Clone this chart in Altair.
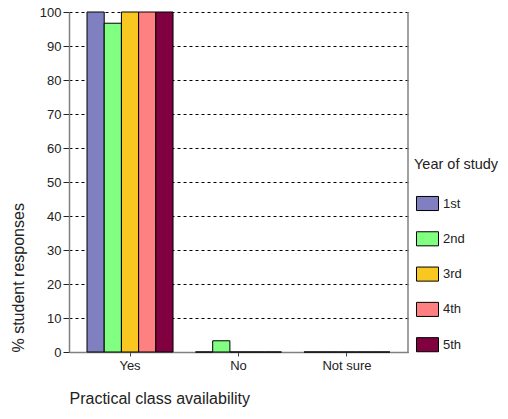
import altair as alt
import pandas as pd

categories = ["Yes", "No", "Not sure"]
years = ["1st", "2nd", "3rd", "4th", "5th"]
yes_vals = [100, 96.7, 100, 100, 100]
no_vals = [0, 3.3, 0, 0, 0]
notsure_vals = [0, 0, 0, 0, 0]
colors = ["#8080C0", "#80FF80", "#F8C820", "#FF8080", "#800040"]
y_ticks = [0, 10, 20, 30, 40, 50, 60, 70, 80, 90, 100]

rows = []
for cat, vals in zip(categories, [yes_vals, no_vals, notsure_vals]):
    for yr, v in zip(years, vals):
        rows.append({"cat": cat, "year": yr, "value": v})
df = pd.DataFrame(rows)

FONT = "Liberation Sans"
W, H = 339, 340

bars = alt.Chart(df).mark_bar(stroke="black", strokeWidth=1).encode(
    x=alt.X(
        "cat:N",
        sort=categories,
        scale=alt.Scale(paddingInner=0.207, paddingOuter=0.166),
        axis=alt.Axis(
            title="Practical class availability",
            labelAngle=0,
            labelFontSize=13,
            labelColor="#222222",
            labelFont=FONT,
            labelPadding=3,
            tickSize=4,
            tickColor="#444444",
            domainColor="#808080",
            domainWidth=1.5,
            titleFont=FONT,
            titleFontSize=16,
            titleFontWeight="normal",
            titleColor="#222222",
            titleAnchor="start",
            titleAlign="left",
            titlePadding=18,
        ),
    ),
    xOffset=alt.XOffset("year:N", sort=years, scale=alt.Scale(paddingInner=0, paddingOuter=0)),
    y=alt.Y(
        "value:Q",
        scale=alt.Scale(domain=[0, 100], nice=False),
        axis=alt.Axis(
            title="% student responses",
            values=y_ticks,
            labelFontSize=13,
            labelColor="#222222",
            labelFont=FONT,
            labelPadding=2,
            tickSize=6,
            tickColor="#222222",
            domainColor="#808080",
            domainWidth=1.5,
            grid=True,
            gridColor="black",
            gridDash=[3, 3],
            gridOpacity=1,
            gridWidth=1,
            titleFont=FONT,
            titleFontSize=16,
            titleFontWeight="normal",
            titleColor="#222222",
            titleAnchor="start",
            titlePadding=13,
        ),
    ),
    color=alt.Color(
        "year:N",
        sort=years,
        scale=alt.Scale(domain=years, range=colors),
        legend=alt.Legend(
            title="Year of study",
            orient="none",
            legendX=345,
            legendY=146,
            titleFont=FONT,
            titleFontSize=14.5,
            titleFontWeight="normal",
            titleColor="#222222",
            titlePadding=19.5,
            labelFont=FONT,
            labelFontSize=13,
            labelColor="#222222",
            labelOffset=4,
            rowPadding=14.3,
            symbolOffset=2,
            symbolType="M-1,-0.64L1,-0.64L1,0.64L-1,0.64Z",
            symbolSize=484,
            symbolStrokeColor="black",
            symbolStrokeWidth=1,
            symbolOpacity=1,
        ),
    ),
)

border = alt.Chart(pd.DataFrame({"a": [0]})).mark_rule(color="#808080", strokeWidth=1.5).encode(
    x=alt.value(W), y=alt.value(0), y2=alt.value(H)
)

chart = alt.layer(bars, border).properties(
    width=W,
    height=H,
    autosize=alt.AutoSizeParams(type="none"),
    padding={"left": 61, "top": 4, "right": 92, "bottom": 59},
).configure_view(stroke=None)

chart.save("out.html", embed_options={"renderer": "svg", "actions": False})
